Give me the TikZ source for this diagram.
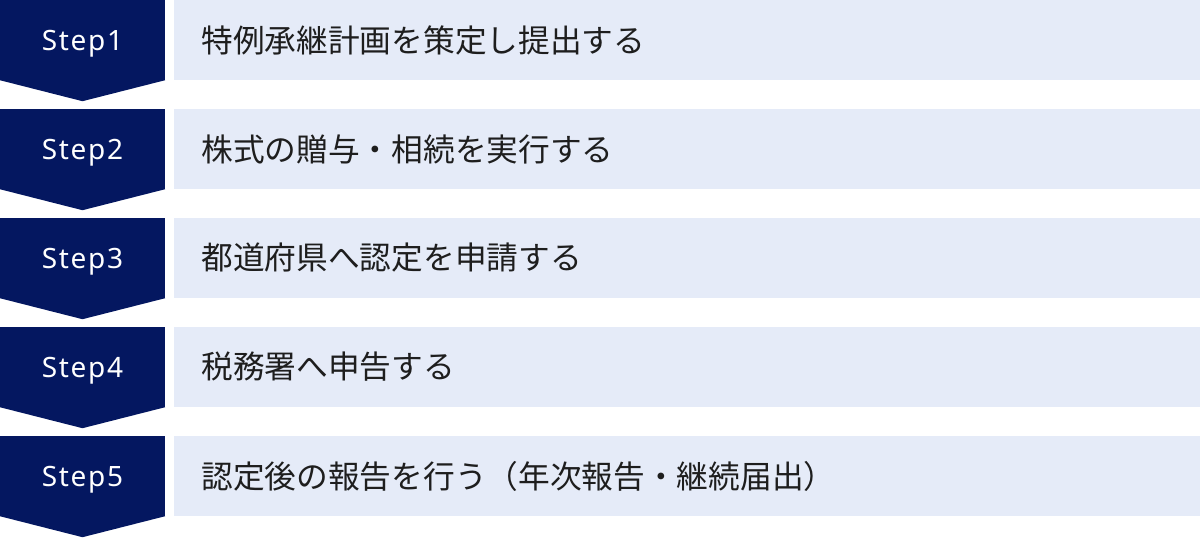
\documentclass[tikz,border=0pt]{standalone}
\usepackage{fontspec}
\newfontfamily\jpfont{Noto Sans CJK JP}
\newfontfamily\stepfont[LetterSpace=6]{Noto Sans}
\usepackage{tikz}
\usetikzlibrary{positioning, calc}
\definecolor{navy}{RGB}{4,23,96}
\definecolor{paleblue}{RGB}{229,235,248}
\definecolor{ink}{RGB}{30,30,30}
\tikzstyle{stepbox} = [rectangle, minimum width=165pt, minimum height=80pt, inner sep=0pt, text height=20pt, text depth=0pt, fill=navy, text=white, font=\stepfont\fontsize{28pt}{32pt}\selectfont]
\tikzstyle{taskbox} = [rectangle, minimum width=1026pt, minimum height=80pt, text width=974pt, inner xsep=27pt, inner ysep=0pt, align=left, fill=paleblue, text=ink, font=\jpfont\fontsize{31.7pt}{36pt}\selectfont]
\tikzstyle{tip} = [fill=navy]

\begin{document}
\begin{tikzpicture}[node distance=109pt]

\useasboundingbox (0,0) rectangle (1200pt,-538pt);

\node (s1) [stepbox] at (82.5pt,-40pt) {Step1};
\node (s2) [stepbox, below of=s1] {Step2};
\node (s3) [stepbox, below of=s2] {Step3};
\node (s4) [stepbox, below of=s3] {Step4};
\node (s5) [stepbox, below of=s4] {Step5};

\node (t1) [taskbox, right=9pt of s1] {特例承継計画を策定し提出する};
\node (t2) [taskbox, right=9pt of s2] {株式の贈与・相続を実行する};
\node (t3) [taskbox, right=9pt of s3] {都道府県へ認定を申請する};
\node (t4) [taskbox, right=9pt of s4] {税務署へ申告する};
\node (t5) [taskbox, right=9pt of s5] {認定後の報告を行う（年次報告・継続届出）};

% chevron points
\foreach \s in {s1,s2,s3,s4,s5}
  \fill [tip] (\s.south west) -- (\s.south east) -- ($(\s.south)+(0,-21pt)$) -- cycle;

\end{tikzpicture}
\end{document}
